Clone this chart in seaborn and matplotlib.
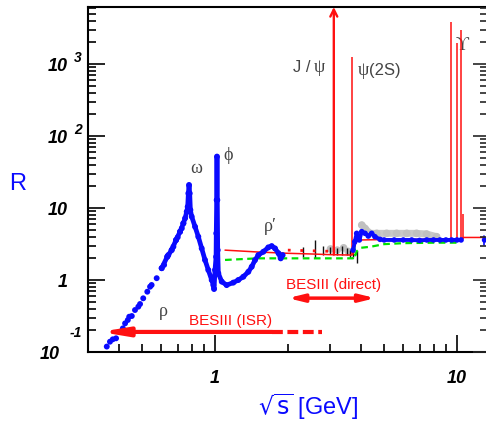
import numpy as np
import pandas as pd
import matplotlib
matplotlib.use("Agg")
import matplotlib.pyplot as plt
import seaborn as sns
from matplotlib.ticker import LogLocator, NullFormatter, FixedLocator

# ---------------- data ----------------
# sparse low-energy tail (rho region), sqrt(s) [GeV] and R
tail_s = [0.357, 0.368, 0.378, 0.390, 0.405, 0.416, 0.425, 0.436, 0.442, 0.453,
          0.467, 0.482, 0.490, 0.505, 0.525, 0.539, 0.547, 0.574, 0.602, 0.616,
          0.635, 0.641, 0.662, 0.673, 0.690, 0.701, 0.717, 0.729, 0.740]
tail_R = [0.119, 0.139, 0.150, 0.155, 0.191, 0.213, 0.250, 0.278, 0.309, 0.316,
          0.383, 0.426, 0.464, 0.557, 0.688, 0.807, 0.853, 1.06, 1.46, 1.62,
          2.11, 2.22, 2.61, 2.90, 3.59, 3.92, 4.69, 5.22, 6.13]

# dense measurements omega / phi / rho'
dense_s = [0.602, 0.635, 0.662, 0.690, 0.717, 0.740, 0.752, 0.764, 0.771, 0.776,
           0.781, 0.786, 0.791, 0.801, 0.827, 0.853, 0.881, 0.909, 0.938, 0.969,
           0.984, 0.991, 1.000, 1.010, 1.012, 1.016, 1.019, 1.022, 1.026, 1.032,
           1.066, 1.117, 1.19, 1.248, 1.309, 1.373, 1.418, 1.463, 1.51, 1.584,
           1.661, 1.715, 1.77, 1.83, 1.868, 1.903]
dense_R = [1.46, 2.11, 2.61, 3.59, 4.69, 6.13, 7.2, 8.9, 10.4, 16.0,
           20.9, 16.0, 9.4, 7.6, 5.5, 4.0, 2.75, 1.9, 1.38, 1.0,
           0.85, 0.75, 1.38, 2.1, 4.45, 12.9, 51.8, 12.9, 2.6, 1.24,
           0.95, 0.85, 0.92, 1.0, 1.11, 1.30, 1.53, 1.89, 2.22, 2.47,
           2.84, 2.96, 2.75, 2.35, 2.0, 2.22]

# blue measurements above open charm threshold
high_s = [3.72, 3.78, 3.85, 3.95, 4.04, 4.17, 4.30, 4.44, 4.58, 4.81, 5.0, 5.5,
          6.0, 6.5, 7.0, 7.5, 8.0, 8.5, 9.0, 9.5, 10.0, 10.4]
high_R = [2.6, 3.4, 4.45, 3.6, 4.7, 4.45, 4.08, 4.45, 4.0, 3.67, 3.6, 3.6,
          3.6, 3.6, 3.55, 3.6, 3.6, 3.6, 3.6, 3.6, 3.6, 3.6]
far_s = [13.0]
far_R = [3.6]

# grey measurements
grey_s = [3.0, 3.2, 3.4, 3.55, 4.04, 4.17, 4.37, 4.66, 5.12, 5.63, 6.20, 6.81, 7.49, 8.24]
grey_R = [2.7, 2.6, 2.8, 2.5, 5.8, 5.2, 4.45, 4.45, 4.45, 4.45, 4.45, 4.45, 4.35, 4.0]

# black points with error bars (2 - 3.9 GeV)
err_s = [2.31, 2.59, 2.80, 3.0, 3.18, 3.35, 3.5, 3.6, 3.72, 3.85]
err_R = [2.5, 2.8, 2.6, 2.6, 2.5, 2.6, 2.5, 2.3, 2.4, 2.1]
err_dR = [0.4, 0.8, 0.4, 0.3, 0.3, 0.35, 0.3, 0.3, 0.3, 0.4]

# pQCD-like curves
red_s = [1.1, 1.5, 2.0, 2.5, 3.0, 3.68, 3.72, 3.78, 3.85, 4.0, 5.0, 7.0, 9.4, 10.5, 10.6, 13.0]
red_R = [2.6, 2.45, 2.35, 2.3, 2.25, 2.22, 2.3, 3.0, 3.45, 3.6, 3.65, 3.67, 3.7, 3.7, 3.9, 3.9]
dot_s = [2.0, 3.05]
dot_R = [2.6, 2.5]
green_s = [1.1, 1.5, 2.0, 2.5, 3.0, 3.6, 3.72, 3.75, 3.8, 3.85, 4.0, 4.4, 5.0, 6.0, 8.0, 10.0]
green_R = [1.9, 2.0, 2.0, 2.0, 2.0, 2.0, 2.0, 3.3, 2.2, 2.5, 2.8, 2.9, 3.15, 3.25, 3.3, 3.3]

# narrow resonances: position, peak height, base
res_s = [3.686, 9.46, 10.02, 10.36, 10.58]
res_top = [1250, 3800, 1960, 2960, 8.3]
res_base = [2.22, 3.7, 3.7, 3.7, 3.7]
jpsi_s = 3.097
jpsi_base = 2.25

# labels
res_labels = ["\u03c9", "\u03d5", "\u03c1\u2032", "\u03c1", "\u03d2"]
res_lab_s = [0.835, 1.13, 1.69, 0.61, 10.55]
res_lab_R = [30.6, 46.4, 4.8, 0.316, 1570]

ytick_vals = [0.1, 1, 10, 100, 1000]
ytick_base = ["10", "1", "10", "10", "10"]
ytick_exp = ["-1", "", "", "2", "3"]
xtick_vals = [1, 10]
xtick_text = ["1", "10"]

# ---------------- figure ----------------
sns.set_style("white")
plt.rcParams["font.family"] = ["Liberation Sans", "DejaVu Sans"]
BLUE = "#0a0aff"
RED = "#ff1010"
GREEN = "#00e000"
GREY_TXT = "#444444"

fig = plt.figure(figsize=(4.86, 4.21), dpi=100)
ax = fig.add_axes([88 / 486, 69 / 421, 398 / 486, 345 / 421])
ax.set_xscale("log")
ax.set_yscale("log")
xlo, xhi = 0.2986, 13.18
ylo, yhi = 0.1, 6200
ax.set_xlim(xlo, xhi)
ax.set_ylim(ylo, yhi)

# grey band
sns.lineplot(x=grey_s[4:], y=grey_R[4:], ax=ax, color="#c8c8c8", lw=5, sort=False,
             estimator=None, zorder=2)
sns.scatterplot(x=grey_s, y=grey_R, ax=ax, color="#c0c0c0", s=30, marker="o",
                edgecolor="none", zorder=2)
# black error bars
ax.errorbar(err_s, err_R, yerr=err_dR, fmt="none", ecolor="#111111", elinewidth=1.0,
            capsize=0, zorder=3)

# green dashed
sns.lineplot(x=green_s, y=green_R, ax=ax, color=GREEN, lw=1.6, sort=False,
             estimator=None, dashes=False, zorder=4).lines[-1].set_dashes((3, 2))
# red curve + dotted
sns.lineplot(x=red_s, y=red_R, ax=ax, color=RED, lw=1.1, sort=False,
             estimator=None, zorder=5)
ax.plot(dot_s, dot_R, color=RED, lw=2.0, linestyle=(0, (1, 3.5)), zorder=5)
ax.vlines(res_s, res_base, res_top, color=RED, lw=1.1, zorder=5)
ax.annotate("", xy=(jpsi_s, yhi), xytext=(jpsi_s, jpsi_base),
            arrowprops=dict(arrowstyle="->,head_length=0.5,head_width=0.25",
                            color=RED, lw=1.7, shrinkA=0, shrinkB=0), zorder=5)

# blue measurements
sns.lineplot(x=dense_s, y=dense_R, ax=ax, color=BLUE, lw=3.4, sort=False,
             estimator=None, zorder=6)
sns.scatterplot(x=tail_s + dense_s, y=tail_R + dense_R, ax=ax, color=BLUE, s=18,
                edgecolor="none", zorder=6)
sns.lineplot(x=high_s, y=high_R, ax=ax, color=BLUE, lw=2.8, sort=False,
             estimator=None, zorder=6)
sns.scatterplot(x=high_s + far_s, y=high_R + far_R, ax=ax, color=BLUE, s=16,
                edgecolor="none", zorder=6)
ax.plot([xhi * 0.985] * 2, [3.1, 4.1], color=BLUE, lw=1.2, zorder=6)

# BESIII arrows
ax.annotate("", xy=(0.335, 0.19), xytext=(1.72, 0.19),
            arrowprops=dict(arrowstyle="-|>,head_length=1.5,head_width=0.25",
                            color=RED, lw=3.0, shrinkA=0, shrinkB=0), zorder=7)
ax.plot([1.72, 2.77], [0.19, 0.19], color=RED, lw=3.0, dashes=(2.6, 1.1),
        dash_capstyle="butt", zorder=7)
ax.annotate("", xy=(2.0, 0.56), xytext=(4.6, 0.56),
            arrowprops=dict(arrowstyle="<|-|>,head_length=0.9,head_width=0.22",
                            color=RED, lw=2.5, shrinkA=0, shrinkB=0), zorder=7)
ax.text(1.16, 0.237, "BESIII (ISR)", color=RED, fontsize=11, ha="center", va="baseline")
ax.text(3.09, 0.75, "BESIII (direct)", color=RED, fontsize=11, ha="center", va="baseline")

# resonance labels
serif = ["Liberation Serif", "DejaVu Serif"]
for lab, xs, yr in zip(res_labels, res_lab_s, res_lab_R):
    ax.text(xs, yr, lab, color=GREY_TXT, fontsize=13, family=serif,
            ha="center", va="baseline")
ax.text(2.10, 776, "J /", color=GREY_TXT, fontsize=12, ha="left", va="baseline")
ax.text(2.55, 776, "\u03c8", color=GREY_TXT, fontsize=13, family=serif, ha="left", va="baseline")
ax.text(3.90, 700, "\u03c8", color=GREY_TXT, fontsize=13, family=serif, ha="left", va="baseline")
ax.text(4.33, 700, "(2S)", color=GREY_TXT, fontsize=12, ha="left", va="baseline")

# axes styling
for side in ["left", "bottom", "top"]:
    ax.spines[side].set_linewidth(1.5)
    ax.spines[side].set_color("black")
ax.spines["right"].set_visible(False)
ax.xaxis.set_major_locator(FixedLocator(xtick_vals))
ax.xaxis.set_minor_locator(LogLocator(base=10, subs=np.arange(2, 10), numticks=50))
ax.yaxis.set_major_locator(FixedLocator(ytick_vals))
ax.yaxis.set_minor_locator(LogLocator(base=10, subs=np.arange(2, 10), numticks=50))
ax.xaxis.set_major_formatter(NullFormatter())
ax.xaxis.set_minor_formatter(NullFormatter())
ax.yaxis.set_major_formatter(NullFormatter())
ax.yaxis.set_minor_formatter(NullFormatter())
ax.tick_params(axis="both", which="both", direction="in", color="black",
               bottom=True, left=True, top=False, right=False, width=1.2)
ax.tick_params(axis="both", which="major", length=12)
ax.tick_params(axis="both", which="minor", length=6)

ax2 = ax.twinx()
ax2.set_yscale("log")
ax2.set_ylim(ylo, yhi)
ax2.yaxis.set_major_locator(FixedLocator(ytick_vals))
ax2.yaxis.set_minor_locator(LogLocator(base=10, subs=np.arange(2, 10), numticks=50))
ax2.yaxis.set_major_formatter(NullFormatter())
ax2.yaxis.set_minor_formatter(NullFormatter())
ax2.tick_params(axis="y", which="both", direction="in", right=True, width=1.2)
ax2.tick_params(axis="y", which="major", length=9.5)
ax2.tick_params(axis="y", which="minor", length=4.5)
for sp in ax2.spines.values():
    sp.set_visible(False)

# tick labels (ROOT-like, bold italic)
tfont = dict(fontsize=13, fontweight="bold", fontstyle="italic", color="black")
efont = dict(fontsize=10, fontweight="bold", fontstyle="italic", color="black")
px = 0.72
for v, b, e in zip(ytick_vals, ytick_base, ytick_exp):
    if e == "-1":
        bx, by, ey = -28, -7, 15
    elif e:
        bx, by, ey = -20, -7, 2
    else:
        bx, by, ey = -20, -7, 0
    ax.annotate(b, xy=(0, v), xycoords=("axes fraction", "data"),
                xytext=(bx * px, by * px), textcoords="offset points",
                ha="right", va="baseline", **tfont)
    if e:
        ax.annotate(e, xy=(0, v), xycoords=("axes fraction", "data"),
                    xytext=(-6 * px, ey * px), textcoords="offset points",
                    ha="right", va="baseline", **efont)
for v, t in zip(xtick_vals, xtick_text):
    ax.annotate(t, xy=(v, 0), xycoords=("data", "axes fraction"),
                xytext=(0, -31 * px), textcoords="offset points",
                ha="center", va="baseline", **tfont)

fig.text(18 / 486, 1 - 190 / 421, "R", color=BLUE, fontsize=17, ha="center", va="baseline")
fig.text(308 / 486, 1 - 415 / 421, r"$\sqrt{\mathrm{s}}$ [GeV]", color=BLUE, fontsize=17,
         ha="center", va="baseline")

fig.savefig("out.png", dpi=100)
